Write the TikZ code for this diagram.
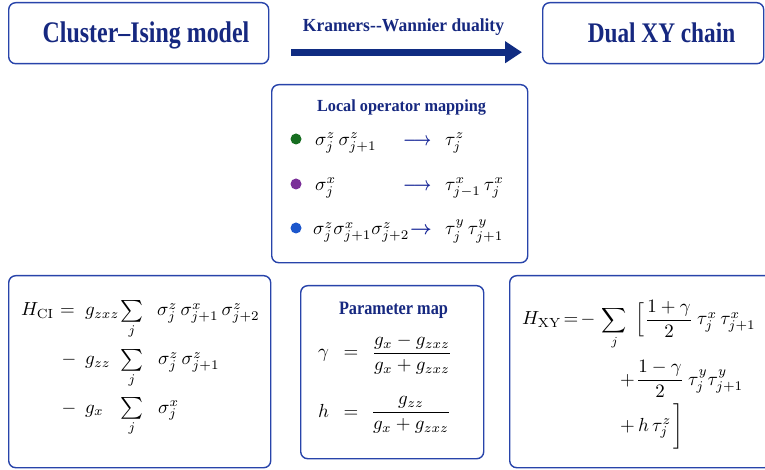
\documentclass[tikz,border=0pt]{standalone}
\usepackage{amsmath}
\usepackage{graphicx}
\usepackage{fontspec}
\newfontfamily\titlefont{Liberation Serif}
\usetikzlibrary{arrows.meta}
\definecolor{titleblue}{RGB}{22,40,128}
\definecolor{borderblue}{RGB}{40,68,170}
\definecolor{arrowblue}{RGB}{16,44,130}
\definecolor{glyphblue}{RGB}{20,36,150}
\definecolor{dotgreen}{RGB}{22,110,32}
\definecolor{dotpurple}{RGB}{122,46,152}
\definecolor{dotblue}{RGB}{28,86,204}
\newcommand{\mbig}[1]{\scalebox{1.9}{$#1$}}
\newcommand{\bsum}{\mathop{\vcenter{\hbox{\scalebox{1.15}{$\textstyle\sum$}}}}\limits}
\tikzset{
  box/.style={draw=borderblue, line width=1.4bp, rounded corners=7bp, fill=white, inner sep=0pt, anchor=north west},
  ttl/.style={text=titleblue, inner sep=0pt, anchor=base},
  m/.style={inner sep=0pt, anchor=base west},
  mc/.style={m, anchor=base},
  dotmark/.style={circle, inner sep=0pt, minimum size=11bp},
  bigarrow/.style={draw=arrowblue, line width=7bp, -{Triangle[length=17bp,width=21bp]}},
  maparrow/.style={m, text=glyphblue},
}
\begin{document}
\begin{tikzpicture}[x=1bp,y=-1bp]
\useasboundingbox (0,0) rectangle (765,470);
\fill[white] (0,0) rectangle (765,470);

% boxes
\node[box, minimum width=260bp, minimum height=61bp] (b1) at (8,2) {};
\node[box, minimum width=221bp, minimum height=61bp] (b2) at (542,2) {};
\node[box, minimum width=256bp, minimum height=178bp] (map) at (271,84) {};
\node[box, minimum width=262bp, minimum height=192bp] (ci) at (8,275) {};
\node[box, minimum width=183bp, minimum height=173bp] (par) at (300,285) {};
\node[box, minimum width=262bp, minimum height=192bp] (xy) at (509,275) {};

% titles
\node[ttl, font=\titlefont\bfseries\fontsize{30}{36}\selectfont] (t1) at (146,42.5) {\scalebox{0.80}[1]{Cluster–Ising model}};
\node[ttl, font=\titlefont\bfseries\fontsize{28.5}{34}\selectfont] (t2) at (661.5,43) {\scalebox{0.82}[1]{Dual XY chain}};
\node[ttl, font=\titlefont\bfseries\fontsize{18.5}{22}\selectfont] (kw) at (403.5,32) {\scalebox{0.95}[1]{Kramers-\kern0.3bp-Wannier duality}};
\node[ttl, font=\titlefont\bfseries\fontsize{17}{21}\selectfont] (tmap) at (401.5,112) {\scalebox{0.96}[1]{Local operator mapping}};
\node[ttl, font=\titlefont\bfseries\fontsize{19}{23}\selectfont] (tpar) at (393.5,315) {\scalebox{0.86}[1]{Parameter map}};

% duality arrow
\draw[bigarrow, shorten <=22bp, shorten >=20bp] ([yshift=-19bp]b1.east) -- ([yshift=-19bp]b2.west);

% local operator mapping
\node[dotmark, fill=dotgreen] (d1) at (296,139) {};
\node[dotmark, fill=dotpurple] (d2) at (296,184) {};
\node[dotmark, fill=dotblue] (d3) at (296,228) {};
\node[m] (l1) at (315,145.5) {\mbig{\sigma^z_j\,\sigma^z_{j+1}}};
\node[m] (l2) at (315,190.5) {\mbig{\sigma^x_j}};
\node[m] (l3) at (313,235) {\mbig{\sigma^z_j\sigma^x_{j+1}\sigma^z_{j+2}}};
\node[maparrow] (a1) at (403,145.5) {\scalebox{1.52}[1.9]{$\boldsymbol{\longrightarrow}$}};
\node[maparrow] (a2) at (403,190.5) {\scalebox{1.52}[1.9]{$\boldsymbol{\longrightarrow}$}};
\node[maparrow] (a3) at (410,235) {\mbig{\boldsymbol{\rightarrow}}};
\node[m] (r1) at (445,145.5) {\mbig{\tau^z_j}};
\node[m] (r2) at (445,190.5) {\mbig{\tau^x_{j-1}\,\tau^x_j}};
\node[m] (r3) at (445,235) {\mbig{\tau^y_j\,\tau^y_{j+1}}};

% cluster-Ising Hamiltonian
\node[m] (hci) at (21,316) {\mbig{H_{\mathrm{CI}}}};
\node[mc] (eq1) at (67.5,316) {\mbig{=}};
\node[mc] (mi2) at (69,365) {\mbig{-}};
\node[mc] (mi3) at (69,413) {\mbig{-}};
\node[m] (g1) at (85,316) {\mbig{g_{zxz}}};
\node[m] (g2) at (85,365) {\mbig{g_{zz}}};
\node[m] (g3) at (85,413) {\mbig{g_x}};
\node[mc] (s1) at (132,316) {\mbig{\bsum_j}};
\node[mc] (s2) at (132,365) {\mbig{\bsum_j}};
\node[mc] (s3) at (132,413) {\mbig{\bsum_j}};
\node[m] (c1) at (157,316) {\mbig{\sigma^z_j\,\sigma^x_{j+1}\,\sigma^z_{j+2}}};
\node[m] (c2) at (158,365) {\mbig{\sigma^z_j\,\sigma^z_{j+1}}};
\node[m] (c3) at (158,413) {\mbig{\sigma^x_j}};

% parameter map
\node[m] (gam) at (318,358) {\mbig{\gamma}};
\node[mc] (eqg) at (351,358) {\mbig{=}};
\node[mc] (fg) at (412,358) {\mbig{\dfrac{g_x-g_{zxz}}{g_x+g_{zxz}}}};
\node[m] (hh) at (318,417) {\mbig{h}};
\node[mc] (eqh) at (351,417) {\mbig{=}};
\node[mc] (fh) at (411,417) {\mbig{\dfrac{g_{zz}}{g_x+g_{zxz}}}};

% XY Hamiltonian
\node[m] (hxy) at (522,325) {\mbig{H_{\mathrm{XY}}}};
\node[mc] (eqx) at (571,325) {\mbig{=}};
\node[mc] (mx) at (588,325) {\mbig{-}};
\node[mc] (sx) at (614.5,325) {\scalebox{1.75}{$\displaystyle\sum_j$}};
\node[mc] (lb) at (640,325) {\mbig{\Bigl[}};
\node[mc] (f1) at (669,325) {\mbig{\dfrac{1+\gamma}{2}}};
\node[m] (x1) at (697,325) {\mbig{\tau^x_j\,\tau^x_{j+1}}};
\node[mc] (p2) at (627.5,385) {\mbig{+}};
\node[mc] (f2) at (660,385) {\mbig{\dfrac{1-\gamma}{2}}};
\node[m] (x2) at (688,385) {\mbig{\tau^y_j\tau^y_{j+1}}};
\node[mc] (p3) at (627.5,431) {\mbig{+}};
\node[m] (h3) at (638,431) {\mbig{h}};
\node[m] (x3) at (652,431) {\mbig{\tau^z_j}};
\node[mc] (rb) at (678.5,431) {\mbig{\biggr]}};
\end{tikzpicture}
\end{document}
